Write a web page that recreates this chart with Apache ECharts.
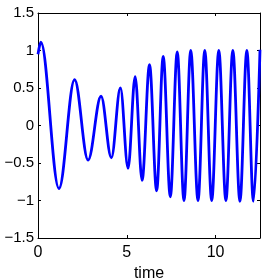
<!DOCTYPE html>
<html><head><meta charset="utf-8">
<script src="https://cdn.jsdelivr.net/npm/echarts@6/dist/echarts.min.js"></script>
<style>html,body{margin:0;padding:0;background:#fff}#c{width:264px;height:280px}</style>
</head><body><div id="c"></div>
<script>
// extrema of the signal (time, value)
const timeVals = [0, 0.16, 1.18, 2.06, 2.82, 3.55, 4.13, 4.64, 5.07, 5.47, 5.86, 6.28, 6.68, 7.05, 7.45, 7.84, 8.22, 8.6, 9.01, 9.39, 9.78, 10.18, 10.58, 10.97, 11.37, 11.76, 12.13, 12.5];
const signalVals = [0.95, 1.11, -0.84, 0.61, -0.46, 0.39, -0.43, 0.50, -0.57, 0.65, -0.73, 0.81, -0.87, 0.92, -0.95, 0.98, -1.0, 1.0, -1.0, 1.0, -1.0, 1.0, -1.0, 1.0, -1.01, 1.0, -1.01, 1.01];
const xTicks = [0, 5, 10];
const yTicks = [-1.5, -1, -0.5, 0, 0.5, 1, 1.5];
const xName = 'time';

const fmt = v => (v < 0 ? '\u2212' + Math.abs(v) : String(v));
const font = { fontFamily: 'Liberation Sans, Arial, sans-serif', fontSize: 15, color: '#000' };
const axisLine = { show: true, onZero: false, lineStyle: { color: '#000', width: 1 } };
const tick = (vals) => ({ show: true, inside: true, length: 3, customValues: vals, lineStyle: { color: '#000', width: 1 } });

const chart = echarts.init(document.getElementById('c'), null, { renderer: 'canvas' });
chart.setOption({
  animation: false,
  backgroundColor: '#fff',
  grid: { left: 38, right: 4, top: 13, bottom: 42, containLabel: false, outerBoundsMode: 'none' },
  xAxis: [
    { type: 'value', min: 0, max: 12.5, position: 'bottom',
      axisLine, axisTick: tick(xTicks), splitLine: { show: false },
      axisLabel: Object.assign({ customValues: xTicks, margin: 7, formatter: fmt }, font, { fontSize: 16 }),
      name: xName, nameLocation: 'middle', nameGap: 24,
      nameTextStyle: Object.assign({}, font, { fontSize: 16 }) },
    { type: 'value', min: 0, max: 12.5, position: 'top',
      axisLine, axisTick: tick(xTicks), splitLine: { show: false }, axisLabel: { show: false } }
  ],
  yAxis: [
    { type: 'value', min: -1.5, max: 1.5, position: 'left',
      axisLine, axisTick: tick(yTicks), splitLine: { show: false },
      axisLabel: Object.assign({ customValues: yTicks, margin: 4, formatter: fmt }, font) },
    { type: 'value', min: -1.5, max: 1.5, position: 'right',
      axisLine, axisTick: tick(yTicks), splitLine: { show: false }, axisLabel: { show: false } }
  ],
  series: [{
    type: 'line',
    data: timeVals.map((t, i) => [t, signalVals[i]]),
    showSymbol: false,
    smooth: 0.36,
    smoothMonotone: 'x',
    lineStyle: { color: '#0000ff', width: 2.8 },
    clip: true
  }]
});
</script>
</body></html>
